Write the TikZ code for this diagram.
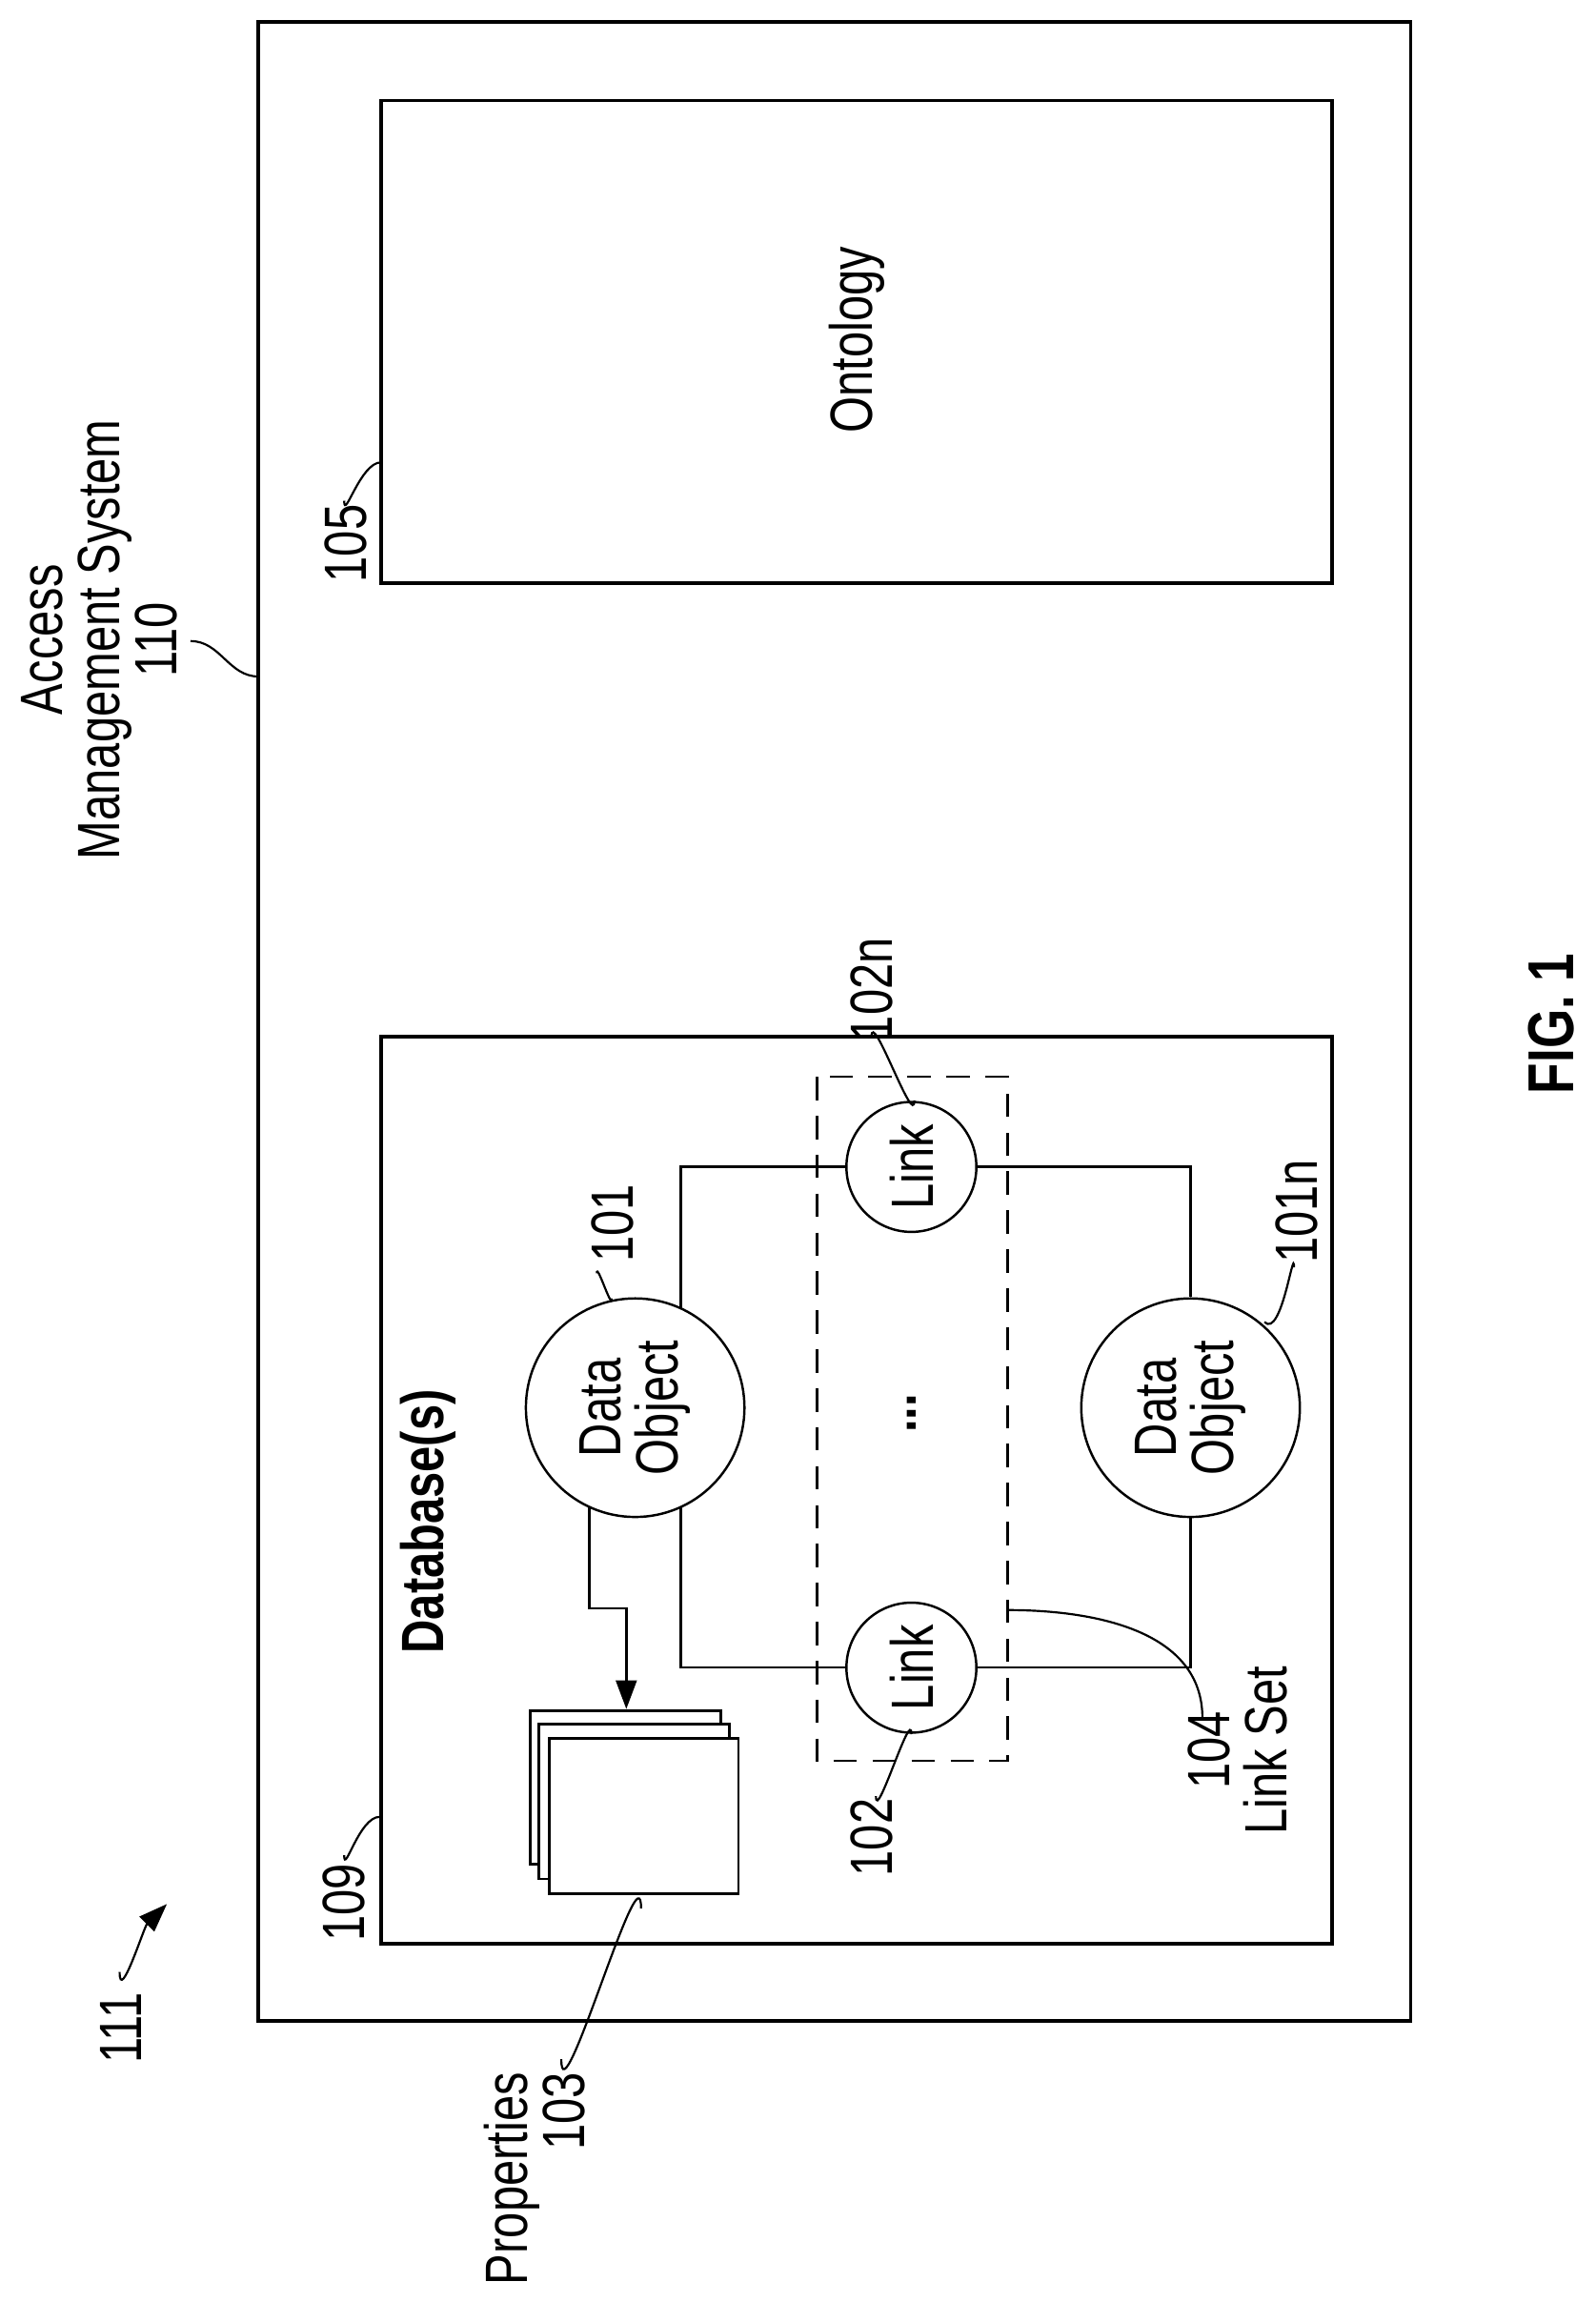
\documentclass[tikz,border=0pt]{standalone}
\usepackage{fontspec}
\setmainfont{Liberation Sans}[FakeStretch=0.78]
\usepackage{tikz}
\usetikzlibrary{arrows.meta, positioning, calc}

\begin{document}
\begin{tikzpicture}[x=0.02cm, y=-0.02cm,
    font=\fontsize{23}{22}\selectfont,
    frame/.style={draw, line width=1.4pt},
    obj/.style={draw, circle, line width=0.9pt, align=center, rotate=90,
                minimum size=2.96cm, inner sep=0pt},
    link/.style={draw, circle, line width=0.9pt, rotate=90,
                 minimum size=1.76cm, inner sep=0pt},
    lbl/.style={rotate=90, align=center, inner sep=0pt},
    lead/.style={line width=0.8pt},
    page/.style={draw, fill=white, line width=1pt}]
  \useasboundingbox (0,0) rectangle (1080,1572);

  % outer system and ontology
  \draw[frame] (175,15) rectangle (955,1368);
  \draw[frame] (258,68) rectangle (902,395);
  \node[lbl] (onto) at (580,230) {Ontology};
  \draw[frame] (258,702) rectangle (902,1316);
  \node[lbl, font=\fontsize{23}{22}\selectfont\bfseries] (dbname) at (290,1030) {Database(s)};

  % objects and links
  \node[obj] (do1) at (430,953) {Data\\Object};
  \node[obj] (do1n) at (806,953) {Data\\Object};
  \node[link] (lk2n) at (617,790) {Link};
  \node[link] (lk2) at (617,1129) {Link};
  \node[lbl, font=\bfseries\fontsize{23}{22}\selectfont] (dots) at (617,957) {...};
  \draw[line width=0.9pt] (461,886) |- (lk2n);
  \draw[line width=0.9pt] (lk2n) -| (do1n);
  \draw[line width=0.9pt] (461,1020) |- (lk2);
  \draw[line width=0.9pt] (lk2) -| (do1n);
  \draw[dashed, line width=0.9pt, dash pattern=on 9pt off 6pt] (553,729) rectangle (682,1192);

  % properties
  \draw[page] (359,1158) rectangle (488,1262);
  \draw[page] (365,1167) rectangle (494,1272);
  \draw[page] (372,1177) rectangle (500,1282);
  \coordinate (pgtop) at (424,1157);
  \draw[line width=0.9pt, -{Triangle[length=11pt, width=8pt]}] (399,1020) |- (424,1089) -- (pgtop);

  % labels
  \node[lbl] (ams) at (67,433) {Access\\Management System\\110};
  \draw[lead] (129,434) to[out=0, in=180] (175,458);
  \node[lbl] (l105) at (234,368) {105};
  \draw[lead] (233,339) to[out=-90, in=180] (258,313);
  \node[lbl] (l109) at (233,1288) {109};
  \draw[lead] (233,1256) to[out=-90, in=180] (257,1230);
  \node[lbl] (l111) at (82,1373) {111};
  \draw[lead, -{Triangle[length=11pt, width=8pt]}] (81,1335) to[out=-90, in=-135] (113,1289);
  \node[lbl] (l101) at (415,828) {101};
  \draw[lead] (414,879) to[out=-90, in=90] (404,862);
  \node[lbl] (l101n) at (878,820) {101n};
  \draw[lead] (856,895) to[out=-45, in=90] (876,858);
  \node[lbl] (l102n) at (590,670) {102n};
  \draw[lead] (590,702) to[out=90, in=-90] (619,745);
  \node[lbl] (l102) at (590,1244) {102};
  \draw[lead] (617,1174) to[out=90, in=-90] (593,1216);
  \node[lbl] (l104) at (838,1185) {104\\Link Set};
  \draw[lead] (682,1090) to[out=0, in=90] (814,1163);
  \node[lbl, align=right] (l103) at (362,1475) {Properties\\103};
  \draw[lead] (434,1292) to[out=90, in=-90] (380,1394);
  \node[lbl, font=\bfseries\fontsize{25}{25}\selectfont] (fig) at (1050,693) {FIG. 1};
\end{tikzpicture}
\end{document}
